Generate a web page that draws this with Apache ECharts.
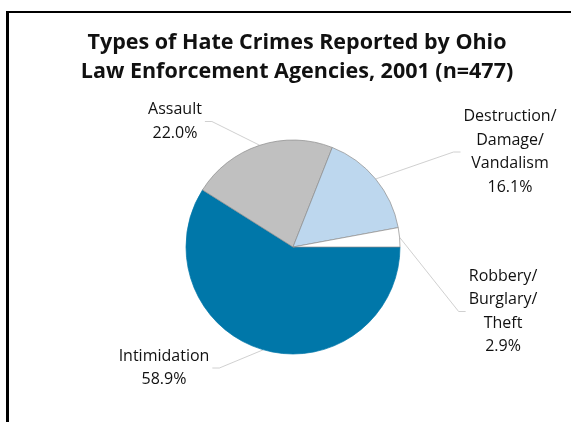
<!DOCTYPE html>
<html>
<head>
<meta charset="utf-8">
<script src="https://cdn.jsdelivr.net/npm/echarts@6/dist/echarts.min.js"></script>
<style>
  html, body { margin: 0; padding: 0; background: #fff; }
  #chart { width: 571px; height: 422px; }
</style>
</head>
<body>
<div id="chart"></div>
<script>
// Crime types (label text) and their share of reported incidents, in percent
const categories = ['Intimidation', 'Assault', 'Destruction/\nDamage/\nVandalism', 'Robbery/\nBurglary/\nTheft'];
const shares = [58.9, 22.0, 16.1, 2.9];
const sliceColors = ['#0077a9', '#c0c0c0', '#bdd7ee', '#ffffff'];

// Label anchor (centre of text block) and which side of the pie it sits on
const labelCenters = [[164, 368], [175, 121.5], [510, 152], [503, 311.5]];
const labelSides = [-1, -1, 1, 1];

const chart = echarts.init(document.getElementById('chart'), null, { renderer: 'canvas' });

const font = '"Open Sans", "Liberation Sans", sans-serif';

chart.setOption({
  animation: false,
  backgroundColor: '#ffffff',
  title: {
    text: 'Types of Hate Crimes Reported by Ohio\nLaw Enforcement Agencies, 2001 (n=477)',
    left: 292,
    top: 23,
    textAlign: 'center',
    textStyle: {
      fontFamily: font,
      fontSize: 21.5,
      fontWeight: 'bold',
      lineHeight: 29,
      color: '#111111'
    }
  },
  graphic: [
    { type: 'rect', shape: { x: 6, y: 11, width: 565, height: 2 }, style: { fill: '#000' }, silent: true },
    { type: 'rect', shape: { x: 6, y: 11, width: 3, height: 411 }, style: { fill: '#000' }, silent: true }
  ],
  series: [{
    type: 'pie',
    center: [293, 247],
    radius: 107,
    startAngle: 0,
    clockwise: true,
    avoidLabelOverlap: false,
    emphasis: { disabled: true },
    itemStyle: { borderColor: '#8c8c8c', borderWidth: 0.7 },
    label: {
      show: true,
      position: 'outside',
      fontFamily: font,
      fontSize: 16,
      lineHeight: 23.5,
      color: '#111111',
      align: 'center',
      formatter: p => p.name + '\n' + p.value.toFixed(1) + '%'
    },
    labelLine: {
      show: true,
      smooth: false,
      lineStyle: { color: '#c4c4c4', width: 0.8 }
    },
    labelLayout: params => {
      const i = params.dataIndex;
      const c = labelCenters[i];
      const side = labelSides[i];
      const w = params.labelRect.width;
      const start = params.labelLinePoints[0];
      const edgeX = side > 0 ? c[0] - w / 2 - 3 : c[0] + w / 2 + 3;
      return {
        x: c[0],
        y: c[1],
        align: 'center',
        verticalAlign: 'middle',
        labelLinePoints: [start, [edgeX - side * 7, c[1]], [edgeX, c[1]]]
      };
    },
    data: categories.map((name, i) => ({
      name: name,
      value: shares[i],
      itemStyle: i === 0
        ? { color: sliceColors[i], borderColor: sliceColors[i] }
        : { color: sliceColors[i] }
    }))
  }]
});
</script>
</body>
</html>
